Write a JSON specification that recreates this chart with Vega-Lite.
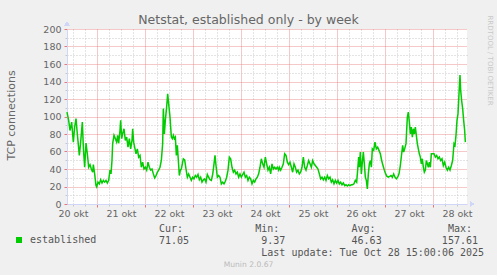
{
  "$schema": "https://vega.github.io/schema/vega-lite/v6.json",
  "width": 400,
  "height": 175,
  "autosize": {"type": "none"},
  "padding": {"left": 67, "top": 29, "right": 30, "bottom": 71},
  "background": "#f0f0f0",
  "config": {"view": {"fill": "#ffffff", "stroke": null}, "font": "DejaVu Sans"},
  "title": {"text": "Netstat, established only - by week", "font": "DejaVu Sans", "fontSize": 12.5, "fontWeight": "normal", "color": "#666666", "frame": "group", "anchor": "middle", "dx": -18.5, "dy": 21, "offset": 0, "baseline": "alphabetic"},
  "data": {"values": [
    {"h": 9, "v": 105}, {"h": 9.83, "v": 95.6}, {"h": 10.5, "v": 84}, {"h": 11.33, "v": 93.6}, {"h": 12.17, "v": 70.7}, {"h": 12.83, "v": 88}, {"h": 13.5, "v": 97.5}, {"h": 14.17, "v": 80}, {"h": 15.17, "v": 55.4}, {"h": 15.83, "v": 70.7}, {"h": 16.67, "v": 93.6}, {"h": 17.17, "v": 65}, {"h": 17.83, "v": 42}, {"h": 18.5, "v": 69.6}, {"h": 19.17, "v": 57.4}, {"h": 19.83, "v": 42}, {"h": 20.5, "v": 45}, {"h": 21.17, "v": 40}, {"h": 21.83, "v": 36.3}, {"h": 22.17, "v": 45}, {"h": 22.83, "v": 34.4}, {"h": 23.5, "v": 21}, {"h": 23.83, "v": 19.5}, {"h": 24.5, "v": 25}, {"h": 25.17, "v": 23}, {"h": 25.83, "v": 27.7}, {"h": 26.5, "v": 24}, {"h": 27.17, "v": 27}, {"h": 27.83, "v": 25}, {"h": 28.5, "v": 27}, {"h": 29.17, "v": 24}, {"h": 29.83, "v": 27}, {"h": 30.5, "v": 38.7}, {"h": 31, "v": 34.4}, {"h": 31.5, "v": 50}, {"h": 31.83, "v": 69}, {"h": 32.5, "v": 78.5}, {"h": 33.17, "v": 74.7}, {"h": 33.83, "v": 70.7}, {"h": 34.33, "v": 78.5}, {"h": 34.83, "v": 69.6}, {"h": 35.5, "v": 84}, {"h": 35.83, "v": 95.6}, {"h": 36.33, "v": 74.7}, {"h": 36.83, "v": 80.4}, {"h": 37.5, "v": 86}, {"h": 38.17, "v": 72.6}, {"h": 38.83, "v": 76.5}, {"h": 39.5, "v": 65}, {"h": 40.17, "v": 74.7}, {"h": 40.83, "v": 63}, {"h": 41.5, "v": 72.6}, {"h": 41.83, "v": 86}, {"h": 42.33, "v": 70.7}, {"h": 42.83, "v": 65}, {"h": 43.5, "v": 57.4}, {"h": 44.17, "v": 63}, {"h": 44.83, "v": 53.6}, {"h": 45.5, "v": 55.5}, {"h": 46.17, "v": 42}, {"h": 46.83, "v": 47.8}, {"h": 47.5, "v": 40}, {"h": 48.17, "v": 42}, {"h": 48.83, "v": 38.7}, {"h": 49.5, "v": 47.8}, {"h": 50.17, "v": 42}, {"h": 50.83, "v": 38.7}, {"h": 51.5, "v": 40}, {"h": 52.17, "v": 34.4}, {"h": 52.83, "v": 29.8}, {"h": 53.5, "v": 32.5}, {"h": 54.17, "v": 36.3}, {"h": 54.83, "v": 38.7}, {"h": 55.5, "v": 42}, {"h": 56.17, "v": 49.7}, {"h": 56.83, "v": 69}, {"h": 57.17, "v": 109}, {"h": 57.67, "v": 80}, {"h": 58.17, "v": 95.6}, {"h": 58.83, "v": 111}, {"h": 59.33, "v": 126}, {"h": 59.83, "v": 114.7}, {"h": 60.5, "v": 99.4}, {"h": 61.17, "v": 76.5}, {"h": 61.67, "v": 74.7}, {"h": 62.17, "v": 78.5}, {"h": 62.67, "v": 74.7}, {"h": 63.17, "v": 76.5}, {"h": 63.67, "v": 55.5}, {"h": 64.17, "v": 67}, {"h": 64.67, "v": 49.7}, {"h": 65.17, "v": 32.5}, {"h": 65.67, "v": 38.7}, {"h": 66.17, "v": 40}, {"h": 66.67, "v": 45.9}, {"h": 67.17, "v": 51.7}, {"h": 67.83, "v": 50.5}, {"h": 68.5, "v": 40}, {"h": 69.17, "v": 30.6}, {"h": 69.83, "v": 34.4}, {"h": 70.5, "v": 30.6}, {"h": 71.17, "v": 27}, {"h": 71.83, "v": 30.6}, {"h": 72.5, "v": 28.7}, {"h": 73.17, "v": 32.5}, {"h": 73.83, "v": 30.6}, {"h": 74.5, "v": 33.7}, {"h": 75.17, "v": 27.7}, {"h": 75.83, "v": 30.6}, {"h": 76.5, "v": 25}, {"h": 77.17, "v": 27.7}, {"h": 77.83, "v": 28.7}, {"h": 78.5, "v": 25}, {"h": 79.17, "v": 33.7}, {"h": 79.83, "v": 30.6}, {"h": 80.5, "v": 27.7}, {"h": 81.17, "v": 27}, {"h": 81.83, "v": 33.7}, {"h": 82.5, "v": 45.9}, {"h": 83, "v": 55.5}, {"h": 83.5, "v": 44}, {"h": 84.17, "v": 30.6}, {"h": 84.83, "v": 32.5}, {"h": 85.5, "v": 30.6}, {"h": 86.17, "v": 23}, {"h": 86.83, "v": 25}, {"h": 87.5, "v": 23}, {"h": 88.17, "v": 26}, {"h": 88.83, "v": 30.6}, {"h": 89.5, "v": 38.7}, {"h": 90.17, "v": 53.6}, {"h": 90.83, "v": 51.7}, {"h": 91.5, "v": 42}, {"h": 92.17, "v": 36.3}, {"h": 92.83, "v": 38.7}, {"h": 93.5, "v": 34.4}, {"h": 94.17, "v": 36.3}, {"h": 94.83, "v": 30.6}, {"h": 95.5, "v": 34.4}, {"h": 96.17, "v": 30.6}, {"h": 96.83, "v": 33.7}, {"h": 97.5, "v": 36.3}, {"h": 98.17, "v": 30.6}, {"h": 98.83, "v": 32.5}, {"h": 99.5, "v": 27}, {"h": 100.17, "v": 30.6}, {"h": 100.83, "v": 28.7}, {"h": 101.5, "v": 23}, {"h": 102.17, "v": 27}, {"h": 102.83, "v": 25}, {"h": 103.5, "v": 28.7}, {"h": 104.17, "v": 30.6}, {"h": 104.83, "v": 34.4}, {"h": 105.5, "v": 42}, {"h": 106.17, "v": 51.7}, {"h": 106.83, "v": 45.9}, {"h": 107.5, "v": 42}, {"h": 108.17, "v": 53.6}, {"h": 108.83, "v": 45.9}, {"h": 109.5, "v": 38.7}, {"h": 110.17, "v": 42}, {"h": 110.83, "v": 34.4}, {"h": 111.5, "v": 45.9}, {"h": 112.17, "v": 40}, {"h": 112.83, "v": 42}, {"h": 113.5, "v": 40}, {"h": 114.17, "v": 42}, {"h": 114.83, "v": 38.7}, {"h": 115.17, "v": 42}, {"h": 115.83, "v": 38.7}, {"h": 116.5, "v": 42}, {"h": 117.17, "v": 45.9}, {"h": 117.83, "v": 57.4}, {"h": 118.5, "v": 55.5}, {"h": 119.17, "v": 47.8}, {"h": 119.83, "v": 45}, {"h": 120.5, "v": 47.8}, {"h": 121.17, "v": 42}, {"h": 121.83, "v": 36.3}, {"h": 122.5, "v": 45.9}, {"h": 123.17, "v": 42}, {"h": 123.83, "v": 36.3}, {"h": 124.5, "v": 38.7}, {"h": 125.17, "v": 34.4}, {"h": 125.83, "v": 36.3}, {"h": 126.5, "v": 42}, {"h": 127.17, "v": 53.6}, {"h": 127.83, "v": 42}, {"h": 128.5, "v": 38.7}, {"h": 129.17, "v": 44}, {"h": 129.83, "v": 49.7}, {"h": 130.5, "v": 45.9}, {"h": 131.17, "v": 42}, {"h": 131.83, "v": 49.7}, {"h": 132.5, "v": 45.9}, {"h": 133.17, "v": 44}, {"h": 133.83, "v": 42}, {"h": 134.5, "v": 40}, {"h": 135.17, "v": 34.4}, {"h": 135.83, "v": 28.7}, {"h": 136.5, "v": 30.6}, {"h": 137.17, "v": 27.7}, {"h": 137.83, "v": 30.6}, {"h": 138.5, "v": 27}, {"h": 139.17, "v": 32.5}, {"h": 139.83, "v": 28.7}, {"h": 140.5, "v": 30.6}, {"h": 141.17, "v": 25}, {"h": 141.83, "v": 27.7}, {"h": 142.5, "v": 23}, {"h": 143.17, "v": 27}, {"h": 143.83, "v": 24}, {"h": 144.5, "v": 27}, {"h": 145.17, "v": 23}, {"h": 145.83, "v": 25}, {"h": 146.5, "v": 22}, {"h": 147.17, "v": 24}, {"h": 147.83, "v": 21}, {"h": 148.5, "v": 22}, {"h": 149.17, "v": 20.5}, {"h": 149.83, "v": 22}, {"h": 150.5, "v": 21}, {"h": 151.17, "v": 22}, {"h": 151.83, "v": 22}, {"h": 152.5, "v": 23}, {"h": 153.17, "v": 27}, {"h": 153.83, "v": 25}, {"h": 154.33, "v": 38.7}, {"h": 154.83, "v": 53.6}, {"h": 155.17, "v": 42}, {"h": 155.67, "v": 59.3}, {"h": 156.17, "v": 34.4}, {"h": 156.67, "v": 47.8}, {"h": 157.17, "v": 59.3}, {"h": 157.67, "v": 45.9}, {"h": 158.17, "v": 30.6}, {"h": 158.67, "v": 27}, {"h": 159.17, "v": 17.3}, {"h": 159.67, "v": 34.4}, {"h": 160.17, "v": 45.9}, {"h": 160.67, "v": 49.7}, {"h": 161.17, "v": 42}, {"h": 161.67, "v": 63}, {"h": 162.33, "v": 61.3}, {"h": 163, "v": 70.7}, {"h": 163.67, "v": 63}, {"h": 164.33, "v": 65}, {"h": 165, "v": 61.3}, {"h": 165.67, "v": 57.4}, {"h": 166.33, "v": 49.7}, {"h": 167, "v": 44}, {"h": 167.67, "v": 38.7}, {"h": 168.33, "v": 34.4}, {"h": 169, "v": 31.5}, {"h": 169.67, "v": 30.6}, {"h": 170.33, "v": 31.5}, {"h": 171, "v": 32.5}, {"h": 171.67, "v": 30.6}, {"h": 172.33, "v": 34.4}, {"h": 173, "v": 30.6}, {"h": 173.67, "v": 28.7}, {"h": 174.33, "v": 30.6}, {"h": 175, "v": 34.4}, {"h": 175.67, "v": 44}, {"h": 176.33, "v": 57.4}, {"h": 176.83, "v": 67}, {"h": 177.33, "v": 59.3}, {"h": 177.83, "v": 63}, {"h": 178.5, "v": 69}, {"h": 179.17, "v": 99.4}, {"h": 179.67, "v": 105}, {"h": 180.17, "v": 93.6}, {"h": 180.67, "v": 80}, {"h": 181.17, "v": 87.9}, {"h": 181.67, "v": 76.5}, {"h": 182.17, "v": 86}, {"h": 182.67, "v": 80}, {"h": 183.17, "v": 87.9}, {"h": 183.67, "v": 78.5}, {"h": 184.17, "v": 69}, {"h": 184.67, "v": 63}, {"h": 185.17, "v": 57.4}, {"h": 185.67, "v": 53.6}, {"h": 186.17, "v": 45.9}, {"h": 186.67, "v": 51.7}, {"h": 187.17, "v": 42}, {"h": 187.67, "v": 36.3}, {"h": 188.17, "v": 38.7}, {"h": 188.67, "v": 49.7}, {"h": 189.17, "v": 45.9}, {"h": 189.67, "v": 42}, {"h": 190.17, "v": 47.8}, {"h": 190.67, "v": 42}, {"h": 191.17, "v": 57.4}, {"h": 191.83, "v": 57.4}, {"h": 192.5, "v": 57.4}, {"h": 193.17, "v": 53.6}, {"h": 193.83, "v": 55.5}, {"h": 194.5, "v": 51.7}, {"h": 195.17, "v": 53.6}, {"h": 195.83, "v": 49.7}, {"h": 196.5, "v": 51.7}, {"h": 197.17, "v": 44}, {"h": 197.83, "v": 47.8}, {"h": 198.5, "v": 42}, {"h": 199.17, "v": 38.7}, {"h": 199.83, "v": 42}, {"h": 200.5, "v": 38.7}, {"h": 201.17, "v": 44}, {"h": 201.83, "v": 49.7}, {"h": 202.5, "v": 69}, {"h": 203, "v": 67}, {"h": 203.5, "v": 78.5}, {"h": 204, "v": 95.6}, {"h": 204.5, "v": 103}, {"h": 204.83, "v": 118}, {"h": 205.17, "v": 134}, {"h": 205.5, "v": 147.5}, {"h": 205.83, "v": 130}, {"h": 206.33, "v": 118}, {"h": 206.83, "v": 109}, {"h": 207.33, "v": 95.6}, {"h": 207.83, "v": 84}, {"h": 208.17, "v": 70.7}
  ]},
  "layer": [
    {
      "mark": {"type": "line", "opacity": 0},
      "encoding": {
        "x": {"field": "h", "type": "quantitative", "scale": {"domain": [9, 209], "nice": false, "zero": false},
          "axis": {"orient": "bottom", "values": [12, 18, 30, 36, 42, 54, 60, 66, 78, 84, 90, 102, 108, 114, 126, 132, 138, 150, 156, 162, 174, 180, 186, 198, 204],
            "grid": true, "gridColor": "#c8c8c8", "gridDash": [1, 2], "gridWidth": 1, "domain": false, "ticks": true, "tickSize": 2, "tickColor": "#c8c8c8", "labels": false,
            "title": "Munin 2.0.67", "titleFont": "DejaVu Sans", "titleFontSize": 7.6, "titleFontWeight": "normal", "titleColor": "#bbbbbb", "titleX": 181, "titleY": 60, "titleAlign": "center", "titleBaseline": "middle", "titleAngle": 0}},
        "y": {"field": "v", "type": "quantitative", "scale": {"domain": [0, 200], "nice": false},
          "axis": {"orient": "left", "values": [10, 30, 50, 70, 90, 110, 130, 150, 170, 190], "grid": true, "gridColor": "#c8c8c8", "gridDash": [1, 2], "gridWidth": 1, "domain": false, "ticks": true, "tickSize": 2, "tickColor": "#c8c8c8", "labels": false, "title": null}}
      }
    },
    {
      "mark": {"type": "line", "opacity": 0},
      "encoding": {
        "x": {"field": "h", "type": "quantitative", "scale": {"domain": [9, 209], "nice": false, "zero": false},
          "axis": {"orient": "bottom", "values": [24, 48, 72, 96, 120, 144, 168, 192], "grid": true, "gridColor": "#e87878", "gridOpacity": 0.8, "gridDash": [1, 1], "gridWidth": 1,
            "domain": true, "domainColor": "#cfd6f8", "domainWidth": 1, "ticks": true, "tickSize": 3, "tickColor": "#e87878", "labels": false,
            "title": "Last update: Tue Oct 28 15:00:06 2025", "titleFont": "DejaVu Sans Mono", "titleFontSize": 10, "titleFontWeight": "normal", "titleColor": "#555555", "titleX": 193.8, "titleY": 43.4, "titleAlign": "left", "titleBaseline": "top", "titleAngle": 0}},
        "y": {"field": "v", "type": "quantitative", "scale": {"domain": [0, 200], "nice": false},
          "axis": {"orient": "left", "values": [0, 20, 40, 60, 80, 100, 120, 140, 160, 180, 200], "grid": true, "gridColor": "#e87878", "gridOpacity": 0.8, "gridDash": [1, 1], "gridWidth": 1,
            "domain": true, "domainColor": "#cfd6f8", "domainWidth": 1, "ticks": true, "tickSize": 3, "tickColor": "#e87878",
            "labels": true, "labelFont": "DejaVu Sans", "labelFontSize": 9.5, "labelColor": "#666666", "labelPadding": 3, "labelBound": false, "labelOverlap": false, "labelFlush": false,
            "title": "TCP connections", "titleFont": "DejaVu Sans", "titleFontSize": 11, "titleFontWeight": "normal", "titleColor": "#666666", "titleX": -56, "titleY": 86, "titleAngle": -90, "titleAlign": "center", "titleBaseline": "middle"}}
      }
    },
    {
      "mark": {"type": "line", "strokeWidth": 1.5, "interpolate": "linear"},
      "encoding": {
        "x": {"field": "h", "type": "quantitative", "scale": {"domain": [9, 209], "nice": false, "zero": false},
          "axis": {"orient": "bottom", "values": [12, 36, 60, 84, 108, 132, 156, 180, 204], "labelExpr": "(floor(datum.value / 24) + 20) + ' okt'",
            "grid": false, "domain": false, "ticks": false, "labels": true, "labelFont": "DejaVu Sans", "labelFontSize": 9.5, "labelColor": "#666666", "labelPadding": 4, "labelFlush": false, "labelOverlap": false, "labelBound": false,
            "title": [
              "Cur:\u00a0\u00a0\u00a0\u00a0\u00a0\u00a0\u00a0\u00a0\u00a0\u00a0\u00a0\u00a0Min:\u00a0\u00a0\u00a0\u00a0\u00a0\u00a0\u00a0\u00a0\u00a0\u00a0\u00a0\u00a0Avg:\u00a0\u00a0\u00a0\u00a0\u00a0\u00a0\u00a0\u00a0\u00a0\u00a0\u00a0\u00a0Max:",
              "71.05\u00a0\u00a0\u00a0\u00a0\u00a0\u00a0\u00a0\u00a0\u00a0\u00a0\u00a0\u00a09.37\u00a0\u00a0\u00a0\u00a0\u00a0\u00a0\u00a0\u00a0\u00a0\u00a0\u00a046.63\u00a0\u00a0\u00a0\u00a0\u00a0\u00a0\u00a0\u00a0\u00a0\u00a0157.61"
            ],
            "titleFont": "DejaVu Sans Mono", "titleFontSize": 10, "titleFontWeight": "normal", "titleColor": "#555555", "titleX": 91.4, "titleY": 19, "titleAlign": "left", "titleBaseline": "top", "titleLineHeight": 12.2, "titleAngle": 0}},
        "y": {"field": "v", "type": "quantitative", "scale": {"domain": [0, 200], "nice": false},
          "axis": {"orient": "right", "grid": false, "domain": false, "ticks": false, "labels": false,
            "title": "RRDTOOL / TOBI OETIKER", "titleFont": "DejaVu Sans", "titleFontSize": 7, "titleFontWeight": "normal", "titleColor": "#c8c8c8", "titleX": 22.5, "titleY": -14, "titleAngle": 90, "titleAlign": "left", "titleBaseline": "middle"}},
        "color": {"datum": "established", "type": "nominal", "scale": {"range": ["#00cc00"]},
          "legend": {"orient": "none", "legendX": -53, "legendY": 206, "title": null, "symbolType": "square", "symbolSize": 36, "symbolFillColor": "#00cc00", "symbolStrokeWidth": 0, "symbolOpacity": 1,
            "labelFont": "DejaVu Sans Mono", "labelFontSize": 10, "labelColor": "#555555", "labelOffset": 6, "padding": 0, "rowPadding": 0}}
      }
    },
    {
      "mark": {"type": "point", "shape": "triangle-up", "filled": true, "color": "#cfd6f8", "opacity": 1, "size": 22, "clip": false},
      "encoding": {"x": {"datum": 9, "type": "quantitative", "axis": null}, "y": {"datum": 206, "type": "quantitative", "axis": null}}
    },
    {
      "mark": {"type": "point", "shape": "triangle-right", "filled": true, "color": "#cfd6f8", "opacity": 1, "size": 22, "clip": false},
      "encoding": {"x": {"datum": 211.5, "type": "quantitative", "axis": null}, "y": {"datum": 0, "type": "quantitative", "axis": null}}
    }
  ],
  "resolve": {"axis": {"x": "independent", "y": "independent"}}
}
